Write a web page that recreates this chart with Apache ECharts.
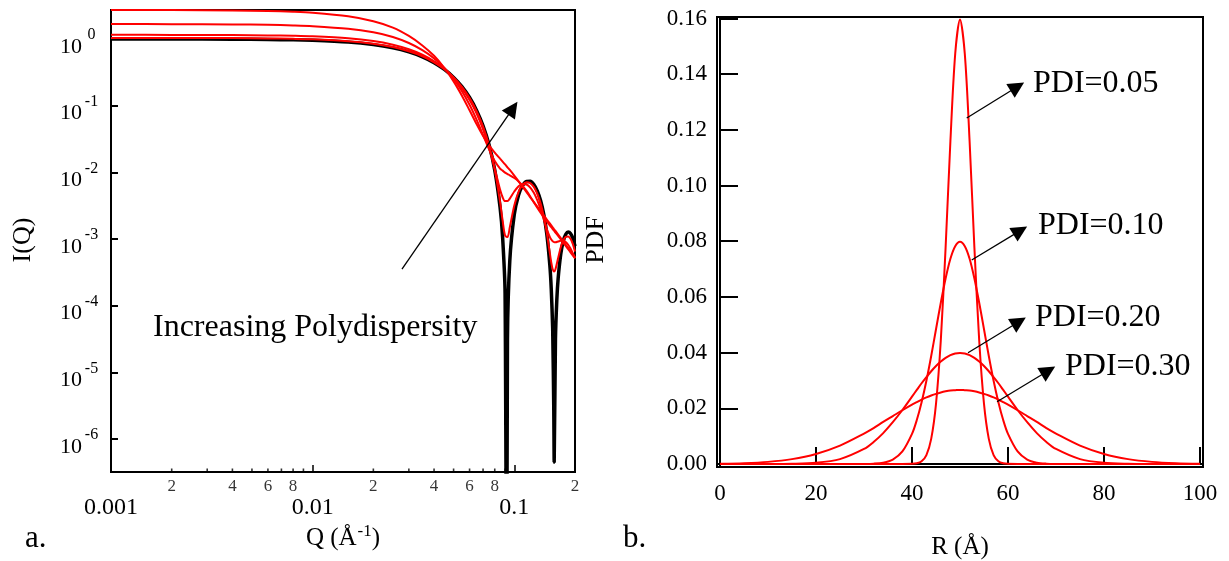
<!DOCTYPE html>
<html>
<head>
<meta charset="utf-8">
<script src="https://cdn.jsdelivr.net/npm/echarts@6/dist/echarts.min.js"></script>
<style>
html,body{margin:0;padding:0;background:#fff;}
#chart{width:1229px;height:561px;}
</style>
</head>
<body>
<div id="chart"></div>
<script>
// ---------------- Panel a: I(Q) vs Q (log-log) ----------------
const qBlack = [0.001,0.002,0.004,0.006,0.008,0.01,0.015,0.02,0.025,0.03,0.035,0.04,0.045,0.05,0.055,0.06,0.065,0.07,0.075,0.08,0.085,0.0875,0.09,0.0917,0.0925,0.095,0.1,0.105,0.11,0.115,0.12,0.125,0.13,0.135,0.14,0.145,0.15,0.1525,0.155,0.157,0.1577,0.16,0.1625,0.165,0.17,0.175,0.18,0.185,0.19,0.195,0.2];
const iBlack = [1.0,0.998,0.992,0.983,0.970,0.953,0.897,0.823,0.736,0.640,0.540,0.442,0.349,0.265,0.1925,0.1323,0.0849,0.0499,0.0258,0.0108,0.0030,0.00107,0.000155,1e-9,3.2e-5,0.000473,0.00234,0.00456,0.00636,0.0073,0.00733,0.00657,0.00528,0.00378,0.00234,0.00118,0.000409,0.000177,4.5e-5,2.6e-6,4.5e-7,3.1e-5,0.000122,0.000257,0.000596,0.000932,0.00117,0.00127,0.00121,0.00103,0.00078];

const qRed = [0.001,0.002,0.004,0.006,0.008,0.01,0.015,0.02,0.025,0.03,0.035,0.04,0.045,0.05,0.055,0.06,0.065,0.07,0.075,0.08,0.085,0.0875,0.09,0.0925,0.095,0.1,0.105,0.11,0.115,0.12,0.125,0.13,0.135,0.14,0.145,0.15,0.1525,0.155,0.1575,0.16,0.165,0.17,0.175,0.18,0.185,0.19,0.195,0.2];
const iPdi05 = [1.037,1.036,1.030,1.019,1.005,0.988,0.928,0.849,0.756,0.655,0.550,0.447,0.351,0.265,0.191,0.130,0.0828,0.0484,0.0251,0.0109,0.00363,0.0019,0.00113,0.00107,0.0015,0.00319,0.00509,0.0065,0.00711,0.0069,0.00604,0.00479,0.00342,0.00218,0.00123,0.00062,0.000446,0.000351,0.000324,0.000352,0.00052,0.000751,0.000956,0.001078,0.001092,0.001005,0.000844,0.000648];
const iPdi10 = [1.154,1.152,1.145,1.132,1.115,1.094,1.022,0.930,0.819,0.700,0.580,0.463,0.356,0.263,0.185,0.123,0.0770,0.0445,0.0235,0.0113,0.0055,0.00423,0.0037,0.0037,0.00404,0.00515,0.00618,0.00669,0.00656,0.0059,0.00492,0.00382,0.0028,0.00198,0.00141,0.001075,0.000981,0.000925,0.000898,0.000893,0.000916,0.000941,0.000938,0.000897,0.00082,0.000721,0.000615,0.000517];
const iPdi20 = [1.672,1.668,1.654,1.631,1.598,1.558,1.425,1.258,1.072,0.870,0.680,0.512,0.368,0.252,0.165,0.103,0.0617,0.0364,0.0221,0.0148,0.0114,0.0106,0.00988,0.0094,0.00901,0.00822,0.0073,0.00628,0.00527,0.00435,0.00357,0.00295,0.00247,0.00211,0.00183,0.0016,0.0015,0.00141,0.00133,0.00125,0.00111,0.00099,0.00088,0.000785,0.000703,0.00063,0.000567,0.000512];
const iPdi30 = [2.722,2.714,2.683,2.631,2.560,2.472,2.188,1.845,1.481,1.110,0.800,0.559,0.367,0.231,0.141,0.0852,0.0530,0.0352,0.0254,0.0197,0.0160,0.0145,0.01315,0.0119,0.01085,0.00893,0.00734,0.00606,0.00504,0.00422,0.00357,0.00305,0.00262,0.00226,0.00196,0.00171,0.0016,0.0015,0.0014,0.00132,0.00116,0.00103,0.00092,0.00082,0.000734,0.00066,0.000594,0.000537];

const qMinorTicks = [0.002,0.003,0.004,0.005,0.006,0.007,0.008,0.009,0.02,0.03,0.04,0.05,0.06,0.07,0.08,0.09,0.2];
const qMinorLabels = [0.002,0.004,0.006,0.008,0.02,0.04,0.06,0.08,0.2];
const qMajorLabels = {'-3':'0.001','-2':'0.01','-1':'0.1'};
const qAxisMin = 0.001, qAxisMax = 0.2;
const iAxisMin = 3.2e-7, iAxisMax = 2.72;
// arrow annotation (start, end) in data coordinates
const arrowA = [[0.02773, 3.546e-4],[0.09842, 0.09092]];

// ---------------- Panel b: PDF vs R ----------------
const rValues = [0,5,10,15,20,25,30,32,34,36,38,40,41,42,43,44,45,46,47,48,49,50,51,52,53,54,55,56,57,58,59,60,62,64,66,68,70,75,80,85,90,95,100];
const pdf05 = [0,0,0,0,0,0,0,0,0,0,0,0.00005,0.00024,0.00095,0.0032,0.0090,0.0216,0.0444,0.0777,0.1159,0.1473,0.1596,0.1473,0.1159,0.0777,0.0444,0.0216,0.0090,0.0032,0.00095,0.00024,0.00005,0,0,0,0,0,0,0,0,0,0,0];
const pdf10 = [0,0,0,0,0,0,0.00003,0.00012,0.00048,0.0016,0.0045,0.0108,0.0158,0.0222,0.0299,0.0388,0.0484,0.0579,0.0666,0.0737,0.0782,0.0798,0.0782,0.0737,0.0666,0.0579,0.0484,0.0388,0.0299,0.0222,0.0158,0.0108,0.0045,0.0016,0.00048,0.00012,0.00003,0,0,0,0,0,0];
const pdf20 = [0,0,0.00001,0.00009,0.00044,0.00175,0.0054,0.0079,0.0111,0.0150,0.0194,0.0242,0.0266,0.0290,0.0312,0.0333,0.0352,0.0368,0.0381,0.0391,0.0397,0.0399,0.0397,0.0391,0.0381,0.0368,0.0352,0.0333,0.0312,0.0290,0.0266,0.0242,0.0194,0.0150,0.0111,0.0079,0.0054,0.00175,0.00044,0.00009,0.00001,0,0];
const pdf30 = [0.0001,0.0003,0.00076,0.00175,0.0036,0.0066,0.0109,0.0129,0.0151,0.0172,0.0193,0.0213,0.0222,0.0231,0.0239,0.0246,0.0252,0.0257,0.0261,0.0264,0.0265,0.0266,0.0265,0.0264,0.0261,0.0257,0.0252,0.0246,0.0239,0.0231,0.0222,0.0213,0.0193,0.0172,0.0151,0.0129,0.0109,0.0066,0.0036,0.00175,0.00076,0.0003,0.0001];
const rTicks = [0,20,40,60,80,100];
const pdfTicks = [0,0.02,0.04,0.06,0.08,0.10,0.12,0.14,0.16];
const rAxisMin = -0.625, rAxisMax = 100.625;
const pdfAxisMin = -0.00108, pdfAxisMax = 0.16054;
const pdiLabels = ['PDI=0.05','PDI=0.10','PDI=0.20','PDI=0.30'];
// arrow annotations (start, end) in data coordinates
const arrowsB = [
  [[51.40,0.12427],[61.94,0.13551]],
  [[52.44,0.07327],[62.56,0.08382]],
  [[51.67,0.03997],[62.29,0.0511]],
  [[57.71,0.02237],[68.40,0.03351]]
];

// ---------------- Build chart ----------------
const FONT = '"Liberation Serif","Times New Roman",Times,serif';
const RED = '#ff0000';
const zip = (xs, ys) => xs.map((x, i) => [x, ys[i]]);
const chart = echarts.init(document.getElementById('chart'), null, {renderer: 'canvas'});

const redLine = (name, ys) => ({
  name, type: 'line', xAxisIndex: 0, yAxisIndex: 0, data: zip(qRed, ys),
  showSymbol: false, smooth: 0.3, lineStyle: {color: RED, width: 2}, itemStyle: {color: RED},
  silent: true, z: 3
});
const pdfLine = (name, ys, extra) => Object.assign({
  name, type: 'line', xAxisIndex: 1, yAxisIndex: 1, data: zip(rValues, ys),
  showSymbol: false, smooth: 0.3, lineStyle: {color: RED, width: 2}, itemStyle: {color: RED},
  silent: true, z: 3
}, extra || {});

const arrowMarkLine = (pairs) => ({
  silent: true, symbol: ['none', 'triangle'], symbolSize: 16,
  lineStyle: {color: '#000', width: 1.3, type: 'solid'},
  itemStyle: {color: '#000'},
  label: {show: false}, emphasis: {disabled: true},
  data: pairs.map(p => [{coord: p[0]}, {coord: p[1]}])
});

const txt = (text, x, y, size, opts) => Object.assign({
  type: 'text', x, y, silent: true,
  style: Object.assign({text, fill: '#000', fontSize: size, fontFamily: FONT, align: 'left', verticalAlign: 'middle'}, (opts && opts.style) || {})
}, (opts && opts.el) || {});

const option = {
  animation: false,
  backgroundColor: '#fff',
  textStyle: {fontFamily: FONT, color: '#000'},
  grid: [
    {left: 111, top: 10, width: 464, height: 462, show: true, borderColor: '#000', borderWidth: 2, backgroundColor: 'transparent', containLabel: false, outerBoundsMode: 'none'},
    {left: 717, top: 17, width: 486, height: 450, show: true, borderColor: '#000', borderWidth: 2, backgroundColor: 'transparent', containLabel: false, outerBoundsMode: 'none'}
  ],
  xAxis: [
    {
      gridIndex: 0, type: 'log', logBase: 10, min: qAxisMin, max: qAxisMax,
      axisLine: {show: true, lineStyle: {color: '#000', width: 2}},
      axisTick: {show: true, inside: true, length: 7, lineStyle: {color: '#000', width: 1.5}},
      axisLabel: {
        show: true, margin: 24, fontSize: 24, fontFamily: FONT, color: '#000',
        formatter: function (v) {
          const e = Math.log10(v); const r = Math.round(e);
          if (Math.abs(e - r) > 1e-6) return '';
          return qMajorLabels[String(r)] || '';
        }
      },
      splitLine: {show: false}, minorTick: {show: false}, minorSplitLine: {show: false}
    },
    {
      gridIndex: 1, type: 'value', min: rAxisMin, max: rAxisMax,
      axisLine: {show: true, lineStyle: {color: '#000', width: 2}},
      axisTick: {show: true, inside: true, length: 17, customValues: rTicks, lineStyle: {color: '#000', width: 2}},
      axisLabel: {show: true, customValues: rTicks, margin: 15, fontSize: 23, fontFamily: FONT, color: '#000'},
      splitLine: {show: false}
    }
  ],
  yAxis: [
    {
      gridIndex: 0, type: 'log', logBase: 10, min: iAxisMin, max: iAxisMax,
      axisLine: {show: true, lineStyle: {color: '#000', width: 2}},
      axisTick: {show: true, inside: true, length: 7, lineStyle: {color: '#000', width: 2}},
      axisLabel: {
        show: true, margin: 11, align: 'right',
        formatter: function (v) {
          const e = Math.log10(v); const r = Math.round(e);
          if (Math.abs(e - r) > 1e-6 || r > 0) return '';
          return '{b|10}{s|' + r + '}';
        },
        rich: {
          b: {fontSize: 22, fontFamily: FONT, color: '#000', verticalAlign: 'top', padding: [16, 0, 0, 0]},
          s: {fontSize: 16, fontFamily: FONT, color: '#000', verticalAlign: 'top', padding: [7, 0, 0, 1], width: 17, align: 'left'}
        }
      },
      splitLine: {show: false}
    },
    {
      gridIndex: 1, type: 'value', min: pdfAxisMin, max: pdfAxisMax,
      axisLine: {show: true, lineStyle: {color: '#000', width: 2}},
      axisTick: {show: true, inside: true, length: 18, customValues: pdfTicks, lineStyle: {color: '#000', width: 2}},
      axisLabel: {show: true, customValues: pdfTicks, margin: 10, fontSize: 23, fontFamily: FONT, color: '#000',
        formatter: v => Number(v).toFixed(2)},
      splitLine: {show: false}
    }
  ],
  series: [
    {
      name: 'monodisperse', type: 'line', xAxisIndex: 0, yAxisIndex: 0, data: zip(qBlack, iBlack),
      showSymbol: false, smooth: 0.2, lineStyle: {color: '#000', width: 3.5}, itemStyle: {color: '#000'},
      silent: true, z: 2,
      markLine: arrowMarkLine([arrowA])
    },
    redLine('PDI 0.05', iPdi05),
    redLine('PDI 0.10', iPdi10),
    redLine('PDI 0.20', iPdi20),
    redLine('PDI 0.30', iPdi30),
    {
      name: 'minor ticks', type: 'scatter', xAxisIndex: 0, yAxisIndex: 0, silent: true, clip: false, z: 5,
      symbol: 'rect', symbolSize: [1.6, 3.5], symbolOffset: [0, -1.75],
      itemStyle: {color: '#000'},
      data: qMinorTicks.map(q => ({value: [q, iAxisMin], label: {show: qMinorLabels.indexOf(q) >= 0}})),
      label: {
        position: 'bottom', distance: 6, fontSize: 17, fontFamily: FONT, color: '#000',
        formatter: function (p) {
          const q = p.value[0];
          return String(Math.round(q / Math.pow(10, Math.floor(Math.log10(q) + 1e-9))));
        }
      }
    },
    pdfLine('PDI=0.05', pdf05, {markLine: arrowMarkLine(arrowsB)}),
    pdfLine('PDI=0.10', pdf10),
    pdfLine('PDI=0.20', pdf20),
    pdfLine('PDI=0.30', pdf30)
  ],
  graphic: [
    txt('Increasing Polydispersity', 153, 328, 32),
    txt(pdiLabels[0], 1033, 84, 32),
    txt(pdiLabels[1], 1038, 226, 32),
    txt(pdiLabels[2], 1035, 318, 32),
    txt(pdiLabels[3], 1065, 367, 32),
    txt('I(Q)', 23, 240, 26, {style: {align: 'center'}, el: {rotation: Math.PI / 2}}),
    txt('PDF', 596, 240, 26, {style: {align: 'center'}, el: {rotation: Math.PI / 2}}),
    {
      type: 'text', x: 343, y: 537, silent: true,
      style: {
        text: '{a|Q (Å}{s|-1}{a|)}', align: 'center', verticalAlign: 'middle', fill: '#000',
        rich: {
          a: {fontSize: 25, fontFamily: FONT, fill: '#000', color: '#000', verticalAlign: 'top', padding: [2, 0, 0, 0]},
          s: {fontSize: 17, fontFamily: FONT, fill: '#000', color: '#000', verticalAlign: 'top', padding: [0, 0, 0, 1]}
        }
      }
    },
    txt('R (Å)', 960, 547, 25, {style: {align: 'center'}}),
    txt('a.', 25, 539, 31),
    txt('b.', 623, 539, 31)
  ]
};
chart.setOption(option);
</script>
</body>
</html>
